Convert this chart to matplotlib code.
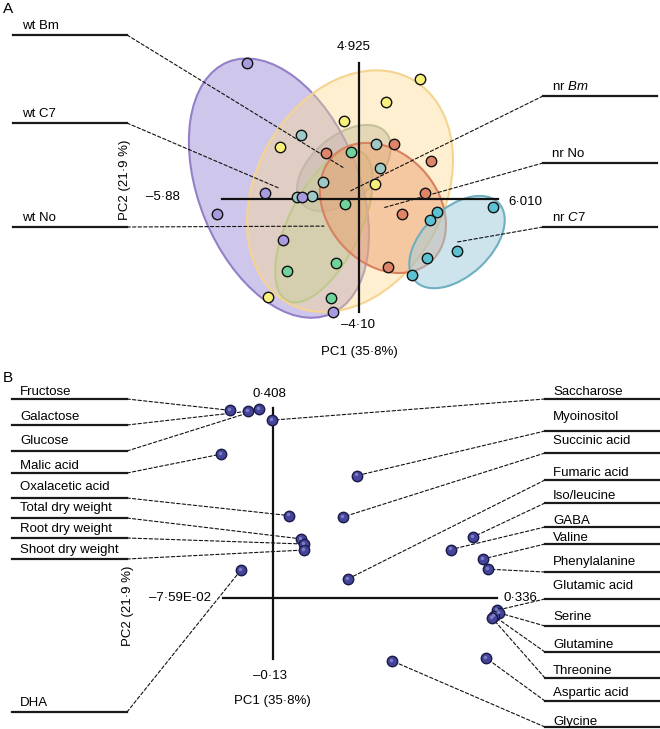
import numpy as np
import matplotlib
matplotlib.use('Agg')
import matplotlib.pyplot as plt
from matplotlib.patches import Ellipse
from matplotlib.transforms import Affine2D
from matplotlib.colors import to_rgba

plt.rcParams['font.family'] = ['Liberation Sans', 'DejaVu Sans']
plt.rcParams['mathtext.fontset'] = 'custom'
plt.rcParams['mathtext.rm'] = 'Liberation Sans'
plt.rcParams['mathtext.it'] = 'Liberation Sans:italic'

# ---------------- data: panel A (PCA scores) ----------------
groups = ['wt Bm', 'wt C7', 'wt No', 'nr Bm', 'nr No', 'nr C7']
group_labels = ['wt Bm', 'wt C7', 'wt No', 'nr $\\mathit{Bm}$', 'nr No', 'nr $\\mathit{C7}$']

wtBm_pc1 = [-2.49, 0.74, 0.91, -1.54, -2.66, -2.02]
wtBm_pc2 = [2.32, 1.99, 1.12, 0.61, 0.07, 0.10]
wtC7_pc1 = [-4.82, -4.04, -2.45, -6.11, -3.27, -1.11]
wtC7_pc2 = [4.925, 0.21, 0.07, -0.55, -1.50, -4.10]
wtNo_pc1 = [-0.34, -0.59, -0.98, -3.09, -1.20]
wtNo_pc2 = [1.70, -0.19, -2.33, -2.63, -3.60]
nrBm_pc1 = [2.64, 1.17, -0.64, -3.40, 0.70, -3.91]
nrBm_pc2 = [4.35, 3.52, 2.83, 1.88, 0.54, -3.56]
nrNo_pc1 = [-1.41, 1.52, 3.11, 2.85, 1.86, 1.26]
nrNo_pc2 = [1.66, 1.99, 1.37, 0.21, -0.55, -2.48]
nrC7_pc1 = [5.78, 3.37, 3.07, 4.23, 2.94, 2.29]
nrC7_pc2 = [-0.30, -0.48, -0.77, -1.90, -2.15, -2.77]

# group ellipses: centre (PC1, PC2), semi axes (PC1 units), angle
ell_cx = [-0.64, -3.44, -1.50, -0.38, 1.04, 4.23]
ell_cy = [1.12, 0.39, -0.99, 0.28, -0.33, -1.57]
ell_a = [2.37, 5.86, 3.58, 5.51, 3.10, 2.46]
ell_b = [1.38, 3.45, 1.55, 4.05, 2.37, 1.46]
ell_ang = [40, 112, 64, 61, 131.5, 43]

A_xlim = (-5.88, 6.010)
A_ylim = (-4.10, 4.925)

# ---------------- data: panel B (loadings) ----------------
left_names = ['Fructose', 'Galactose', 'Glucose', 'Malic acid', 'Oxalacetic acid',
              'Total dry weight', 'Root dry weight', 'Shoot dry weight', 'DHA']
left_pc1 = [-0.0647, -0.0380, -0.0211, -0.0782, 0.0241, 0.0421, 0.0466, 0.0456, -0.0486]
left_pc2 = [0.403, 0.401, 0.405, 0.309, 0.177, 0.127, 0.116, 0.103, 0.060]

right_names = ['Saccharose', 'Myoinositol', 'Succinic acid', 'Fumaric acid', 'Iso/leucine',
               'GABA', 'Valine', 'Phenylalanine', 'Glutamic acid', 'Serine', 'Glutamine',
               'Threonine', 'Aspartic acid', 'Glycine']
right_pc1 = [-0.0011, 0.1263, 0.1048, 0.1123, 0.3003, 0.2666, 0.3158, 0.3223, 0.3368,
             0.3398, 0.3323, 0.3293, 0.3203, 0.1789]
right_pc2 = [0.382, 0.263, 0.174, 0.041, 0.131, 0.104, 0.084, 0.062, -0.026, -0.032,
             -0.039, -0.043, -0.129, -0.135]

B_xlim = (-0.0759, 0.336)
B_ylim = (-0.13, 0.408)

# ---------------- layout (pixels of a 660x729 figure) ----------------
W, H = 660, 729
A_box = (222.3, 63.3, 498.3, 311.7)   # left, top, right, bottom
B_box = (222.7, 408.0, 496.7, 658.6)
A_left_y = [35, 123, 227]      # wt Bm, wt C7, wt No
A_right_y = [96, 163, 227]     # nr Bm, nr No, nr C7
B_left_line = [399, 425, 451, 473, 498, 518, 538, 559, 712]
B_left_text = [392, 417, 441, 466, 487, 508, 529, 550, 703]
B_right_line = [399, 431, 453, 480, 503, 527, 544, 572, 599, 626, 652, 678, 701, 727]
B_right_text = [392, 417, 441, 473, 496, 521, 538, 562, 586, 617, 645, 671, 693, 722]

pt_colors = ['#9ec9c6', '#a99be0', '#6fd39a', '#f7f07a', '#e08468', '#5cc2d2']
ell_face = ['#a4a8a0', '#a090d8', '#a8c8a0', '#fbd98a', '#ee9a6a', '#9ccadc']
ell_alpha = [0.45, 0.5, 0.45, 0.4, 0.45, 0.5]
ell_edge = ['#a5b0a8', '#9580c8', '#98c090', '#f5d490', '#d88060', '#6eafc0']
ell_order = [1, 3, 0, 2, 4, 5]
FS = 9.5


def fxy(px, py):
    return (px / W, 1 - py / H)


def box_axes(box):
    l, t, r, b = box
    return fig.add_axes([l / W, 1 - b / H, (r - l) / W, (b - t) / H])


def hline(x0, x1, py):
    fig.add_artist(plt.Line2D([x0 / W, x1 / W], [1 - py / H, 1 - py / H],
                              transform=fig.transFigure, color='#1a1a1a', lw=1.6))


def leader(ax, px, py, x, y):
    ax.annotate('', xy=(x, y), xycoords='data', xytext=fxy(px, py),
                textcoords='figure fraction', annotation_clip=False, zorder=3,
                arrowprops=dict(arrowstyle='-', color='#111111', lw=0.8,
                                linestyle=(0, (3, 2)), shrinkA=0, shrinkB=0))


def ftext(px, py, s, fs=FS, **kw):
    x, y = fxy(px, py)
    fig.text(x, y, s, fontsize=fs, **kw)


fig = plt.figure(figsize=(6.6, 7.29), dpi=100)

# ================= Panel A =================
axA = box_axes(A_box)
axA.set_xlim(A_xlim)
axA.set_ylim(A_ylim)
axA.axis('off')
axA.plot(A_xlim, [0, 0], color='#111111', lw=1.6, zorder=4, clip_on=False)
axA.plot([0, 0], A_ylim, color='#111111', lw=1.6, zorder=4, clip_on=False)

ppu_x = (A_box[2] - A_box[0]) / (A_xlim[1] - A_xlim[0])
ppu_y = (A_box[3] - A_box[1]) / (A_ylim[1] - A_ylim[0])
ratio = ppu_x / ppu_y

for i in ell_order:
    tr = Affine2D().scale(1, ratio).translate(ell_cx[i], ell_cy[i]) + axA.transData
    e = Ellipse((0, 0), 2 * ell_a[i], 2 * ell_b[i], angle=ell_ang[i],
                facecolor=to_rgba(ell_face[i], ell_alpha[i]),
                edgecolor=ell_edge[i], lw=1.5, transform=tr, zorder=1 + i * 0.1)
    axA.add_patch(e)
    e.set_clip_on(False)

scores = [(wtBm_pc1, wtBm_pc2), (wtC7_pc1, wtC7_pc2), (wtNo_pc1, wtNo_pc2),
          (nrBm_pc1, nrBm_pc2), (nrNo_pc1, nrNo_pc2), (nrC7_pc1, nrC7_pc2)]
for i, (xs, ys) in enumerate(scores):
    axA.plot(xs, ys, 'o', ms=7.5, mfc=pt_colors[i], mec='#111111', mew=1.0,
             zorder=5, clip_on=False)

# group labels with leader lines to ellipse centres
for k in range(3):
    py = A_left_y[k]
    hline(13, 127, py)
    ftext(22, py - 3, group_labels[k], va='bottom')
    leader(axA, 127, py, ell_cx[k], ell_cy[k])
for k in range(3):
    py = A_right_y[k]
    i = k + 3
    hline(543, 657, py)
    ftext(552, py - 3, group_labels[i], va='bottom')
    leader(axA, 543, py, ell_cx[i], ell_cy[i])

ftext(354, 47, '4\u00b7925', ha='center', va='center')
ftext(180, 197, '\u20135\u00b788', ha='right', va='center')
ftext(508, 202, '6\u00b7010', ha='left', va='center')
ftext(358, 325, '\u20134\u00b710', ha='center', va='center')
ftext(359, 352, 'PC1 (35\u00b78%)', ha='center', va='center')
ftext(125, 180, 'PC2 (21\u00b79 %)', ha='center', va='center', rotation=90)
ftext(3, 9, 'A', fs=11, ha='left', va='center')

# ================= Panel B =================
axB = box_axes(B_box)
axB.set_xlim(B_xlim)
axB.set_ylim(B_ylim)
axB.axis('off')
axB.plot(B_xlim, [0, 0], color='#111111', lw=1.6, zorder=2, clip_on=False)
axB.plot([0, 0], B_ylim, color='#111111', lw=1.6, zorder=2, clip_on=False)

for k, name in enumerate(left_names):
    hline(12, 127, B_left_line[k])
    ftext(20, B_left_text[k], name, va='center')
    leader(axB, 127, B_left_line[k], left_pc1[k], left_pc2[k])
for k, name in enumerate(right_names):
    hline(545, 660, B_right_line[k])
    ftext(553, B_right_text[k], name, va='center')
    leader(axB, 545, B_right_line[k], right_pc1[k], right_pc2[k])

axB.plot(left_pc1 + right_pc1, left_pc2 + right_pc2, 'o', ms=7.5, mfc='#44449a',
         mec='#1a1a48', mew=1.0, zorder=5, clip_on=False)
axB.plot(np.array(left_pc1 + right_pc1) - 0.0015, np.array(left_pc2 + right_pc2) + 0.0025,
         'o', ms=2.5, mfc='#8c8cd0', mec='none', alpha=0.8, zorder=6, clip_on=False)

ftext(269, 394, '0\u00b7408', ha='center', va='center')
ftext(211, 598, '\u20137\u00b759E-02', ha='right', va='center')
ftext(503, 598, '0\u00b7336', ha='left', va='center')
ftext(270, 676, '\u20130\u00b713', ha='center', va='center')
ftext(272, 701, 'PC1 (35\u00b78%)', ha='center', va='center')
ftext(128, 606, 'PC2 (21\u00b79 %)', ha='center', va='center', rotation=90)
ftext(3, 378, 'B', fs=11, ha='left', va='center')

fig.savefig('out.png', dpi=100)
